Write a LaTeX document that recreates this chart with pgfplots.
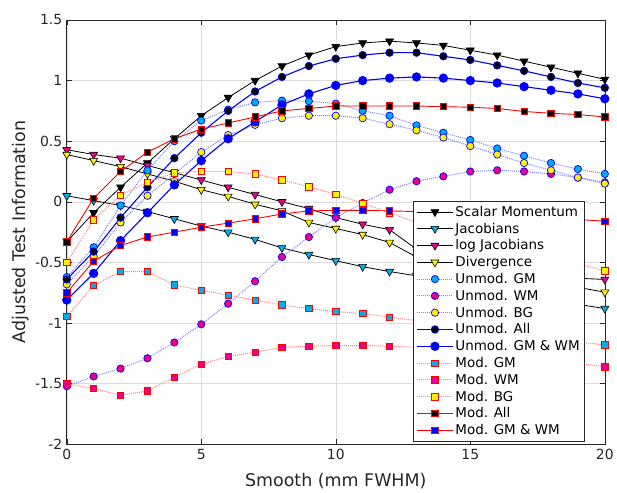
\documentclass[border=0pt]{standalone}
\usepackage{pgfplots}
\pgfplotsset{compat=1.18}
\usepackage{fontspec}
\setmainfont{DejaVu Sans}
\definecolor{axgray}{gray}{0.15}
\definecolor{mblue}{rgb}{0,0,1}
\definecolor{lblue}{rgb}{0.5,0.5,1}
\definecolor{lred}{rgb}{1,0.5,0.5}
\begin{document}
\begin{tikzpicture}
\begin{axis}[
  scale only axis, width=540pt, height=426pt,
  xmin=0, xmax=20, ymin=-2, ymax=1.5,
  xtick={0,5,10,15,20}, ytick={-2,-1.5,-1,-0.5,0,0.5,1,1.5},
  /pgf/number format/assume math mode=true,
  tick label style={font=\fontsize{14}{16}\selectfont, color=axgray},
  yticklabel style={xshift=-1pt},
  xticklabel style={yshift=-1pt},
  tick align=inside, major tick length=5pt,
  tick style={axgray, line width=0.5pt},
  axis line style={axgray, line width=0.6pt},
  grid=major, grid style={gray!28, line width=0.5pt},
  xlabel={Smooth (mm FWHM)}, ylabel={Adjusted Test Information},
  every axis x label/.style={at={(axis description cs:0.5,-0.087)}, anchor=center, font=\fontsize{17.5}{20}\selectfont, color=axgray},
  every axis y label/.style={at={(axis description cs:-0.085,0.5)}, rotate=90, anchor=center, font=\fontsize{17.5}{20}\selectfont, color=axgray},
  legend style={at={(0.963,0.007)}, anchor=south east, draw=axgray, line width=0.6pt, fill=white,
    font=\fontsize{13.5}{16}\selectfont, row sep=1.1pt, inner sep=3pt},
  legend cell align=left,
  legend image code/.code={\draw[mark repeat=2,mark phase=2] plot coordinates {(0pt,0pt) (18pt,0pt) (36pt,0pt)};},
  tri/.style={black, line width=0.8pt, mark=triangle*, mark size=4.6pt, mark options={rotate=180, draw=black, fill=#1, line width=0.6pt, solid}},
  uc/.style={lblue, densely dotted, line width=1pt, mark=*, mark size=3.7pt, mark options={draw=mblue, fill=#1, line width=0.7pt, solid}},
  us/.style={mblue, line width=1.1pt, mark=*, mark size=3.8pt, mark options={draw=mblue, fill=#1, line width=0.7pt, solid}},
  mc/.style={lred, densely dotted, line width=1pt, mark=square*, mark size=3.2pt, mark options={draw=red, fill=#1, line width=0.7pt, solid}},
  ms/.style={red, line width=0.9pt, mark=square*, mark size=3.2pt, mark options={draw=red, fill=#1, line width=0.7pt, solid}},
]
\addplot[tri=black] coordinates {(0,-0.33)(1,-0.09)(2,0.12)(3,0.32)(4,0.52)(5,0.71)(6,0.86)(7,1.00)(8,1.12)(9,1.21)(10,1.28)(11,1.31)(12,1.325)(13,1.31)(14,1.29)(15,1.25)(16,1.21)(17,1.16)(18,1.11)(19,1.06)(20,1.01)};
\addlegendentry{Scalar Momentum}
\addplot[tri=cyan] coordinates {(0,0.05)(1,0.01)(2,-0.03)(3,-0.08)(4,-0.14)(5,-0.20)(6,-0.25)(7,-0.31)(8,-0.38)(9,-0.435)(10,-0.485)(11,-0.535)(12,-0.575)(13,-0.61)(14,-0.65)(15,-0.69)(16,-0.73)(17,-0.77)(18,-0.81)(19,-0.845)(20,-0.88)};
\addlegendentry{Jacobians}
\addplot[tri=magenta] coordinates {(0,0.43)(1,0.39)(2,0.36)(3,0.30)(4,0.24)(5,0.18)(6,0.12)(7,0.06)(8,0.00)(9,-0.055)(10,-0.13)(11,-0.185)(12,-0.23)(13,-0.39)(14,-0.47)(15,-0.52)(16,-0.56)(17,-0.59)(18,-0.61)(19,-0.63)(20,-0.64)};
\addlegendentry{log Jacobians}
\addplot[tri=yellow] coordinates {(0,0.39)(1,0.34)(2,0.29)(3,0.23)(4,0.17)(5,0.10)(6,0.045)(7,-0.02)(8,-0.075)(9,-0.17)(10,-0.22)(11,-0.27)(12,-0.335)(13,-0.455)(14,-0.50)(15,-0.54)(16,-0.58)(17,-0.62)(18,-0.66)(19,-0.705)(20,-0.745)};
\addlegendentry{Divergence}
\addplot[uc=cyan] coordinates {(0,-0.62)(1,-0.375)(2,-0.03)(3,0.26)(4,0.50)(5,0.67)(6,0.76)(7,0.82)(8,0.835)(9,0.83)(10,0.81)(11,0.75)(12,0.71)(13,0.63)(14,0.57)(15,0.51)(16,0.44)(17,0.38)(18,0.32)(19,0.27)(20,0.23)};
\addlegendentry{Unmod. GM}
\addplot[uc=magenta] coordinates {(0,-1.52)(1,-1.44)(2,-1.375)(3,-1.29)(4,-1.16)(5,-1.01)(6,-0.84)(7,-0.655)(8,-0.455)(9,-0.29)(10,-0.13)(11,-0.01)(12,0.10)(13,0.17)(14,0.21)(15,0.25)(16,0.26)(17,0.25)(18,0.23)(19,0.20)(20,0.16)};
\addlegendentry{Unmod. WM}
\addplot[uc=yellow] coordinates {(0,-0.68)(1,-0.45)(2,-0.17)(3,0.05)(4,0.23)(5,0.41)(6,0.55)(7,0.635)(8,0.69)(9,0.71)(10,0.71)(11,0.69)(12,0.64)(13,0.59)(14,0.53)(15,0.46)(16,0.39)(17,0.32)(18,0.26)(19,0.20)(20,0.15)};
\addlegendentry{Unmod. BG}
\addplot[us=black] coordinates {(0,-0.64)(1,-0.41)(2,-0.13)(3,0.12)(4,0.36)(5,0.57)(6,0.75)(7,0.91)(8,1.03)(9,1.12)(10,1.18)(11,1.21)(12,1.23)(13,1.23)(14,1.20)(15,1.17)(16,1.125)(17,1.08)(18,1.03)(19,0.98)(20,0.94)};
\addlegendentry{Unmod. All}
\addplot[us=mblue, mark size=4.3pt] coordinates {(0,-0.81)(1,-0.59)(2,-0.32)(3,-0.09)(4,0.14)(5,0.34)(6,0.52)(7,0.66)(8,0.80)(9,0.89)(10,0.96)(11,1.00)(12,1.02)(13,1.03)(14,1.02)(15,1.00)(16,0.98)(17,0.95)(18,0.92)(19,0.89)(20,0.85)};
\addlegendentry{Unmod. GM \& WM}
\addplot[mc=cyan] coordinates {(0,-0.945)(1,-0.69)(2,-0.575)(3,-0.575)(4,-0.685)(5,-0.73)(6,-0.77)(7,-0.81)(8,-0.85)(9,-0.88)(10,-0.905)(11,-0.92)(12,-0.95)(13,-0.98)(14,-1.01)(15,-1.04)(16,-1.07)(17,-1.10)(18,-1.13)(19,-1.155)(20,-1.18)};
\addlegendentry{Mod. GM}
\addplot[mc=magenta] coordinates {(0,-1.50)(1,-1.54)(2,-1.595)(3,-1.56)(4,-1.445)(5,-1.34)(6,-1.275)(7,-1.24)(8,-1.20)(9,-1.19)(10,-1.185)(11,-1.185)(12,-1.19)(13,-1.20)(14,-1.22)(15,-1.24)(16,-1.26)(17,-1.28)(18,-1.30)(19,-1.33)(20,-1.36)};
\addlegendentry{Mod. WM}
\addplot[mc=yellow] coordinates {(0,-0.50)(1,-0.15)(2,0.055)(3,0.16)(4,0.24)(5,0.25)(6,0.25)(7,0.23)(8,0.18)(9,0.125)(10,0.06)(11,-0.01)(12,-0.09)(13,-0.17)(14,-0.23)(15,-0.29)(16,-0.35)(17,-0.40)(18,-0.46)(19,-0.51)(20,-0.57)};
\addlegendentry{Mod. BG}
\addplot[ms=black] coordinates {(0,-0.33)(1,0.03)(2,0.25)(3,0.41)(4,0.52)(5,0.60)(6,0.65)(7,0.70)(8,0.75)(9,0.77)(10,0.79)(11,0.79)(12,0.79)(13,0.79)(14,0.785)(15,0.78)(16,0.77)(17,0.745)(18,0.73)(19,0.72)(20,0.70)};
\addlegendentry{Mod. All}
\addplot[ms=mblue] coordinates {(0,-0.75)(1,-0.49)(2,-0.36)(3,-0.29)(4,-0.25)(5,-0.21)(6,-0.175)(7,-0.14)(8,-0.10)(9,-0.075)(10,-0.07)(11,-0.07)(12,-0.075)(13,-0.08)(14,-0.09)(15,-0.10)(16,-0.11)(17,-0.12)(18,-0.13)(19,-0.145)(20,-0.16)};
\addlegendentry{Mod. GM \& WM}
\coordinate (ll) at (rel axis cs:0,0);
\coordinate (ur) at (rel axis cs:1,1);
\end{axis}
\path ([shift={(-67pt,-46pt)}]ll) rectangle ([shift={(10pt,20pt)}]ur);
\end{tikzpicture}
\end{document}
